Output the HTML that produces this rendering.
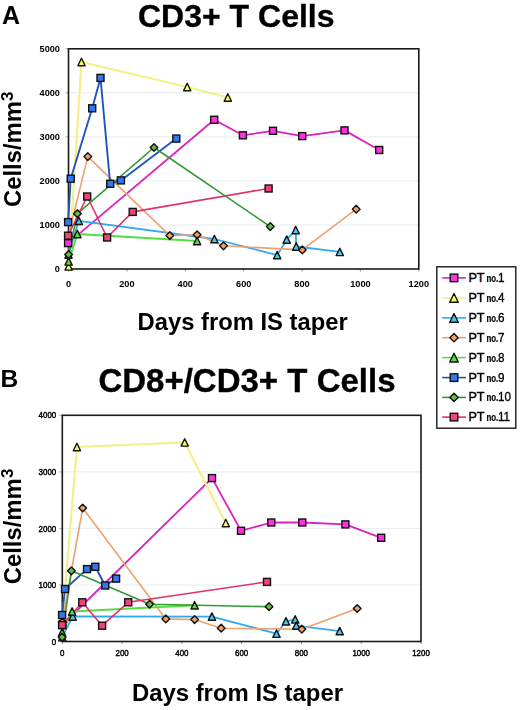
<!DOCTYPE html>
<html><head><meta charset="utf-8"><style>
html,body{margin:0;padding:0;background:#fff;}
body{width:520px;height:710px;overflow:hidden;position:relative;}
svg{position:absolute;left:0;top:0;filter:blur(0.35px);}
text{font-family:"Liberation Sans", sans-serif;fill:#000;}
</style></head><body>
<svg width="520" height="710" viewBox="0 0 520 710">
<line x1="68.5" y1="225.0" x2="418.8" y2="225.0" stroke="#e3ecee" stroke-width="1"/>
<line x1="68.5" y1="180.9" x2="418.8" y2="180.9" stroke="#e3ecee" stroke-width="1"/>
<line x1="68.5" y1="136.9" x2="418.8" y2="136.9" stroke="#e3ecee" stroke-width="1"/>
<line x1="68.5" y1="92.8" x2="418.8" y2="92.8" stroke="#e3ecee" stroke-width="1"/>
<line x1="65.5" y1="269.0" x2="68.5" y2="269.0" stroke="#999" stroke-width="0.8"/>
<line x1="65.5" y1="225.0" x2="68.5" y2="225.0" stroke="#999" stroke-width="0.8"/>
<line x1="65.5" y1="180.9" x2="68.5" y2="180.9" stroke="#999" stroke-width="0.8"/>
<line x1="65.5" y1="136.9" x2="68.5" y2="136.9" stroke="#999" stroke-width="0.8"/>
<line x1="65.5" y1="92.8" x2="68.5" y2="92.8" stroke="#999" stroke-width="0.8"/>
<line x1="65.5" y1="48.8" x2="68.5" y2="48.8" stroke="#999" stroke-width="0.8"/>
<line x1="68.5" y1="269.0" x2="68.5" y2="271.5" stroke="#777" stroke-width="0.8"/>
<line x1="126.9" y1="269.0" x2="126.9" y2="271.5" stroke="#777" stroke-width="0.8"/>
<line x1="185.3" y1="269.0" x2="185.3" y2="271.5" stroke="#777" stroke-width="0.8"/>
<line x1="243.7" y1="269.0" x2="243.7" y2="271.5" stroke="#777" stroke-width="0.8"/>
<line x1="302.0" y1="269.0" x2="302.0" y2="271.5" stroke="#777" stroke-width="0.8"/>
<line x1="360.4" y1="269.0" x2="360.4" y2="271.5" stroke="#777" stroke-width="0.8"/>
<line x1="418.8" y1="269.0" x2="418.8" y2="271.5" stroke="#777" stroke-width="0.8"/>
<rect x="68.5" y="48.8" width="350.3" height="220.2" fill="none" stroke="#1a1a1a" stroke-width="1.6"/>
<polyline points="68.1,243.1 214.2,119.8 242.9,135.3 273.0,130.8 302.2,136.1 344.5,130.4 379.2,150.0" fill="none" stroke="#dd22bb" stroke-width="1.8" stroke-linejoin="round"/>
<polyline points="68.6,266.4 81.5,62.0 187.2,87.0 227.8,97.5" fill="none" stroke="#f3f08a" stroke-width="2.2" stroke-linejoin="round"/>
<polyline points="68.5,254.5 78.8,220.8 214.4,239.0 277.2,255.1 286.7,239.6 295.7,230.0 296.2,246.5 339.8,251.9" fill="none" stroke="#33aaee" stroke-width="1.8" stroke-linejoin="round"/>
<polyline points="68.3,236.0 87.8,156.6 169.8,235.6 197.1,234.8 223.5,245.8 302.3,249.9 356.2,209.2" fill="none" stroke="#eea070" stroke-width="1.6" stroke-linejoin="round"/>
<polyline points="68.6,261.4 77.4,234.0 197.1,241.0" fill="none" stroke="#55dd44" stroke-width="2.0" stroke-linejoin="round"/>
<polyline points="68.1,222.1 70.7,178.7 92.2,108.3 100.5,77.9 110.2,183.8 120.9,180.4 176.3,138.6" fill="none" stroke="#2255bb" stroke-width="1.9" stroke-linejoin="round"/>
<polyline points="68.6,254.5 77.4,213.7 154.0,147.5 270.3,226.6" fill="none" stroke="#339933" stroke-width="1.6" stroke-linejoin="round"/>
<polyline points="68.1,235.7 87.2,196.5 107.1,237.5 132.7,211.9 268.6,188.5" fill="none" stroke="#e03366" stroke-width="1.6" stroke-linejoin="round"/>
<rect x="64.60" y="239.60" width="7.00" height="7.00" fill="#ff33dd" stroke="#111" stroke-width="1.4"/>
<rect x="210.70" y="116.30" width="7.00" height="7.00" fill="#ff33dd" stroke="#111" stroke-width="1.4"/>
<rect x="239.40" y="131.80" width="7.00" height="7.00" fill="#ff33dd" stroke="#111" stroke-width="1.4"/>
<rect x="269.50" y="127.30" width="7.00" height="7.00" fill="#ff33dd" stroke="#111" stroke-width="1.4"/>
<rect x="298.70" y="132.60" width="7.00" height="7.00" fill="#ff33dd" stroke="#111" stroke-width="1.4"/>
<rect x="341.00" y="126.90" width="7.00" height="7.00" fill="#ff33dd" stroke="#111" stroke-width="1.4"/>
<rect x="375.70" y="146.50" width="7.00" height="7.00" fill="#ff33dd" stroke="#111" stroke-width="1.4"/>
<polygon points="68.60,262.69 72.24,270.11 64.96,270.11" fill="#ffff55" stroke="#111" stroke-width="1.4" stroke-linejoin="round"/>
<polygon points="81.50,58.29 85.14,65.71 77.86,65.71" fill="#ffff55" stroke="#111" stroke-width="1.4" stroke-linejoin="round"/>
<polygon points="187.20,83.29 190.84,90.71 183.56,90.71" fill="#ffff55" stroke="#111" stroke-width="1.4" stroke-linejoin="round"/>
<polygon points="227.80,93.79 231.44,101.21 224.16,101.21" fill="#ffff55" stroke="#111" stroke-width="1.4" stroke-linejoin="round"/>
<polygon points="68.50,250.79 72.14,258.21 64.86,258.21" fill="#44ccee" stroke="#111" stroke-width="1.4" stroke-linejoin="round"/>
<polygon points="78.80,217.09 82.44,224.51 75.16,224.51" fill="#44ccee" stroke="#111" stroke-width="1.4" stroke-linejoin="round"/>
<polygon points="214.40,235.29 218.04,242.71 210.76,242.71" fill="#44ccee" stroke="#111" stroke-width="1.4" stroke-linejoin="round"/>
<polygon points="277.20,251.39 280.84,258.81 273.56,258.81" fill="#44ccee" stroke="#111" stroke-width="1.4" stroke-linejoin="round"/>
<polygon points="286.70,235.89 290.34,243.31 283.06,243.31" fill="#44ccee" stroke="#111" stroke-width="1.4" stroke-linejoin="round"/>
<polygon points="295.70,226.29 299.34,233.71 292.06,233.71" fill="#44ccee" stroke="#111" stroke-width="1.4" stroke-linejoin="round"/>
<polygon points="296.20,242.79 299.84,250.21 292.56,250.21" fill="#44ccee" stroke="#111" stroke-width="1.4" stroke-linejoin="round"/>
<polygon points="339.80,248.19 343.44,255.61 336.16,255.61" fill="#44ccee" stroke="#111" stroke-width="1.4" stroke-linejoin="round"/>
<polygon points="68.30,232.15 72.15,236.00 68.30,239.85 64.45,236.00" fill="#f0a060" stroke="#111" stroke-width="1.4" stroke-linejoin="round"/>
<polygon points="87.80,152.75 91.65,156.60 87.80,160.45 83.95,156.60" fill="#f0a060" stroke="#111" stroke-width="1.4" stroke-linejoin="round"/>
<polygon points="169.80,231.75 173.65,235.60 169.80,239.45 165.95,235.60" fill="#f0a060" stroke="#111" stroke-width="1.4" stroke-linejoin="round"/>
<polygon points="197.10,230.95 200.95,234.80 197.10,238.65 193.25,234.80" fill="#f0a060" stroke="#111" stroke-width="1.4" stroke-linejoin="round"/>
<polygon points="223.50,241.95 227.35,245.80 223.50,249.65 219.65,245.80" fill="#f0a060" stroke="#111" stroke-width="1.4" stroke-linejoin="round"/>
<polygon points="302.30,246.05 306.15,249.90 302.30,253.75 298.45,249.90" fill="#f0a060" stroke="#111" stroke-width="1.4" stroke-linejoin="round"/>
<polygon points="356.20,205.35 360.05,209.20 356.20,213.05 352.35,209.20" fill="#f0a060" stroke="#111" stroke-width="1.4" stroke-linejoin="round"/>
<polygon points="68.60,257.69 72.24,265.11 64.96,265.11" fill="#55dd44" stroke="#111" stroke-width="1.4" stroke-linejoin="round"/>
<polygon points="77.40,230.29 81.04,237.71 73.76,237.71" fill="#55dd44" stroke="#111" stroke-width="1.4" stroke-linejoin="round"/>
<polygon points="197.10,237.29 200.74,244.71 193.46,244.71" fill="#55dd44" stroke="#111" stroke-width="1.4" stroke-linejoin="round"/>
<rect x="64.60" y="218.60" width="7.00" height="7.00" fill="#3377ee" stroke="#111" stroke-width="1.4"/>
<rect x="67.20" y="175.20" width="7.00" height="7.00" fill="#3377ee" stroke="#111" stroke-width="1.4"/>
<rect x="88.70" y="104.80" width="7.00" height="7.00" fill="#3377ee" stroke="#111" stroke-width="1.4"/>
<rect x="97.00" y="74.40" width="7.00" height="7.00" fill="#3377ee" stroke="#111" stroke-width="1.4"/>
<rect x="106.70" y="180.30" width="7.00" height="7.00" fill="#3377ee" stroke="#111" stroke-width="1.4"/>
<rect x="117.40" y="176.90" width="7.00" height="7.00" fill="#3377ee" stroke="#111" stroke-width="1.4"/>
<rect x="172.80" y="135.10" width="7.00" height="7.00" fill="#3377ee" stroke="#111" stroke-width="1.4"/>
<polygon points="68.60,250.65 72.45,254.50 68.60,258.35 64.75,254.50" fill="#66bb44" stroke="#111" stroke-width="1.4" stroke-linejoin="round"/>
<polygon points="77.40,209.85 81.25,213.70 77.40,217.55 73.55,213.70" fill="#66bb44" stroke="#111" stroke-width="1.4" stroke-linejoin="round"/>
<polygon points="154.00,143.65 157.85,147.50 154.00,151.35 150.15,147.50" fill="#66bb44" stroke="#111" stroke-width="1.4" stroke-linejoin="round"/>
<polygon points="270.30,222.75 274.15,226.60 270.30,230.45 266.45,226.60" fill="#66bb44" stroke="#111" stroke-width="1.4" stroke-linejoin="round"/>
<rect x="64.60" y="232.20" width="7.00" height="7.00" fill="#ee4477" stroke="#111" stroke-width="1.4"/>
<rect x="83.70" y="193.00" width="7.00" height="7.00" fill="#ee4477" stroke="#111" stroke-width="1.4"/>
<rect x="103.60" y="234.00" width="7.00" height="7.00" fill="#ee4477" stroke="#111" stroke-width="1.4"/>
<rect x="129.20" y="208.40" width="7.00" height="7.00" fill="#ee4477" stroke="#111" stroke-width="1.4"/>
<rect x="265.10" y="185.00" width="7.00" height="7.00" fill="#ee4477" stroke="#111" stroke-width="1.4"/>
<text x="60.0" y="268.40" dy="0.36em" text-anchor="end" font-size="9.6" font-weight="bold" transform="translate(60.0,0) scale(0.96,1) translate(-60.0,0)">0</text>
<text x="60.0" y="224.40" dy="0.36em" text-anchor="end" font-size="9.6" font-weight="bold" transform="translate(60.0,0) scale(0.96,1) translate(-60.0,0)">1000</text>
<text x="60.0" y="180.30" dy="0.36em" text-anchor="end" font-size="9.6" font-weight="bold" transform="translate(60.0,0) scale(0.96,1) translate(-60.0,0)">2000</text>
<text x="60.0" y="136.30" dy="0.36em" text-anchor="end" font-size="9.6" font-weight="bold" transform="translate(60.0,0) scale(0.96,1) translate(-60.0,0)">3000</text>
<text x="60.0" y="92.20" dy="0.36em" text-anchor="end" font-size="9.6" font-weight="bold" transform="translate(60.0,0) scale(0.96,1) translate(-60.0,0)">4000</text>
<text x="60.0" y="48.20" dy="0.36em" text-anchor="end" font-size="9.6" font-weight="bold" transform="translate(60.0,0) scale(0.96,1) translate(-60.0,0)">5000</text>
<text x="68.5" y="283.20" dy="0.36em" text-anchor="middle" font-size="9.6" font-weight="bold" transform="translate(68.5,0) scale(0.96,1) translate(-68.5,0)">0</text>
<text x="126.9" y="283.20" dy="0.36em" text-anchor="middle" font-size="9.6" font-weight="bold" transform="translate(126.9,0) scale(0.96,1) translate(-126.9,0)">200</text>
<text x="185.3" y="283.20" dy="0.36em" text-anchor="middle" font-size="9.6" font-weight="bold" transform="translate(185.3,0) scale(0.96,1) translate(-185.3,0)">400</text>
<text x="243.7" y="283.20" dy="0.36em" text-anchor="middle" font-size="9.6" font-weight="bold" transform="translate(243.7,0) scale(0.96,1) translate(-243.7,0)">600</text>
<text x="302.0" y="283.20" dy="0.36em" text-anchor="middle" font-size="9.6" font-weight="bold" transform="translate(302.0,0) scale(0.96,1) translate(-302.0,0)">800</text>
<text x="360.4" y="283.20" dy="0.36em" text-anchor="middle" font-size="9.6" font-weight="bold" transform="translate(360.4,0) scale(0.96,1) translate(-360.4,0)">1000</text>
<text x="418.8" y="283.20" dy="0.36em" text-anchor="middle" font-size="9.6" font-weight="bold" transform="translate(418.8,0) scale(0.96,1) translate(-418.8,0)">1200</text>
<line x1="62.3" y1="585.0" x2="421.0" y2="585.0" stroke="#e3ecee" stroke-width="1"/>
<line x1="62.3" y1="528.4" x2="421.0" y2="528.4" stroke="#e3ecee" stroke-width="1"/>
<line x1="62.3" y1="471.9" x2="421.0" y2="471.9" stroke="#e3ecee" stroke-width="1"/>
<line x1="59.3" y1="641.5" x2="62.3" y2="641.5" stroke="#999" stroke-width="0.8"/>
<line x1="59.3" y1="585.0" x2="62.3" y2="585.0" stroke="#999" stroke-width="0.8"/>
<line x1="59.3" y1="528.4" x2="62.3" y2="528.4" stroke="#999" stroke-width="0.8"/>
<line x1="59.3" y1="471.9" x2="62.3" y2="471.9" stroke="#999" stroke-width="0.8"/>
<line x1="59.3" y1="415.3" x2="62.3" y2="415.3" stroke="#999" stroke-width="0.8"/>
<line x1="62.3" y1="641.5" x2="62.3" y2="644.0" stroke="#777" stroke-width="0.8"/>
<line x1="122.1" y1="641.5" x2="122.1" y2="644.0" stroke="#777" stroke-width="0.8"/>
<line x1="181.9" y1="641.5" x2="181.9" y2="644.0" stroke="#777" stroke-width="0.8"/>
<line x1="241.6" y1="641.5" x2="241.6" y2="644.0" stroke="#777" stroke-width="0.8"/>
<line x1="301.4" y1="641.5" x2="301.4" y2="644.0" stroke="#777" stroke-width="0.8"/>
<line x1="361.2" y1="641.5" x2="361.2" y2="644.0" stroke="#777" stroke-width="0.8"/>
<line x1="421.0" y1="641.5" x2="421.0" y2="644.0" stroke="#777" stroke-width="0.8"/>
<rect x="62.3" y="415.3" width="358.7" height="226.2" fill="none" stroke="#1a1a1a" stroke-width="1.6"/>
<polyline points="62.3,625.0 212.0,478.1 241.0,530.8 271.3,522.5 302.3,522.5 345.4,524.4 381.2,537.8" fill="none" stroke="#dd22bb" stroke-width="1.8" stroke-linejoin="round"/>
<polyline points="62.3,622.0 76.9,447.0 184.7,442.4 225.8,523.0" fill="none" stroke="#f3f08a" stroke-width="2.2" stroke-linejoin="round"/>
<polyline points="62.2,637.2 72.7,616.5 211.9,616.6 276.5,633.7 286.0,621.3 295.2,619.4 296.3,625.6 339.7,631.1" fill="none" stroke="#33aaee" stroke-width="1.8" stroke-linejoin="round"/>
<polyline points="62.3,622.0 82.7,508.0 165.8,618.9 194.6,619.6 221.2,628.2 301.8,629.2 357.2,608.5" fill="none" stroke="#eea070" stroke-width="1.6" stroke-linejoin="round"/>
<polyline points="62.1,632.3 72.1,611.5 194.6,605.3" fill="none" stroke="#55dd44" stroke-width="2.0" stroke-linejoin="round"/>
<polyline points="62.1,615.0 65.0,589.0 87.0,569.1 95.3,566.8 105.2,585.5 116.1,578.6" fill="none" stroke="#2255bb" stroke-width="1.9" stroke-linejoin="round"/>
<polyline points="62.1,637.2 71.4,570.8 149.6,604.2 269.0,606.7" fill="none" stroke="#339933" stroke-width="1.6" stroke-linejoin="round"/>
<polyline points="62.1,625.0 82.3,602.3 102.1,625.7 128.2,602.3 267.0,581.9" fill="none" stroke="#e03366" stroke-width="1.6" stroke-linejoin="round"/>
<rect x="58.80" y="621.50" width="7.00" height="7.00" fill="#ff33dd" stroke="#111" stroke-width="1.4"/>
<rect x="208.50" y="474.60" width="7.00" height="7.00" fill="#ff33dd" stroke="#111" stroke-width="1.4"/>
<rect x="237.50" y="527.30" width="7.00" height="7.00" fill="#ff33dd" stroke="#111" stroke-width="1.4"/>
<rect x="267.80" y="519.00" width="7.00" height="7.00" fill="#ff33dd" stroke="#111" stroke-width="1.4"/>
<rect x="298.80" y="519.00" width="7.00" height="7.00" fill="#ff33dd" stroke="#111" stroke-width="1.4"/>
<rect x="341.90" y="520.90" width="7.00" height="7.00" fill="#ff33dd" stroke="#111" stroke-width="1.4"/>
<rect x="377.70" y="534.30" width="7.00" height="7.00" fill="#ff33dd" stroke="#111" stroke-width="1.4"/>
<polygon points="62.30,618.29 65.94,625.71 58.66,625.71" fill="#ffff55" stroke="#111" stroke-width="1.4" stroke-linejoin="round"/>
<polygon points="76.90,443.29 80.54,450.71 73.26,450.71" fill="#ffff55" stroke="#111" stroke-width="1.4" stroke-linejoin="round"/>
<polygon points="184.70,438.69 188.34,446.11 181.06,446.11" fill="#ffff55" stroke="#111" stroke-width="1.4" stroke-linejoin="round"/>
<polygon points="225.80,519.29 229.44,526.71 222.16,526.71" fill="#ffff55" stroke="#111" stroke-width="1.4" stroke-linejoin="round"/>
<polygon points="62.20,633.49 65.84,640.91 58.56,640.91" fill="#44ccee" stroke="#111" stroke-width="1.4" stroke-linejoin="round"/>
<polygon points="72.70,612.79 76.34,620.21 69.06,620.21" fill="#44ccee" stroke="#111" stroke-width="1.4" stroke-linejoin="round"/>
<polygon points="211.90,612.89 215.54,620.31 208.26,620.31" fill="#44ccee" stroke="#111" stroke-width="1.4" stroke-linejoin="round"/>
<polygon points="276.50,629.99 280.14,637.41 272.86,637.41" fill="#44ccee" stroke="#111" stroke-width="1.4" stroke-linejoin="round"/>
<polygon points="286.00,617.59 289.64,625.01 282.36,625.01" fill="#44ccee" stroke="#111" stroke-width="1.4" stroke-linejoin="round"/>
<polygon points="295.20,615.69 298.84,623.11 291.56,623.11" fill="#44ccee" stroke="#111" stroke-width="1.4" stroke-linejoin="round"/>
<polygon points="296.30,621.89 299.94,629.31 292.66,629.31" fill="#44ccee" stroke="#111" stroke-width="1.4" stroke-linejoin="round"/>
<polygon points="339.70,627.39 343.34,634.81 336.06,634.81" fill="#44ccee" stroke="#111" stroke-width="1.4" stroke-linejoin="round"/>
<polygon points="62.30,618.15 66.15,622.00 62.30,625.85 58.45,622.00" fill="#f0a060" stroke="#111" stroke-width="1.4" stroke-linejoin="round"/>
<polygon points="82.70,504.15 86.55,508.00 82.70,511.85 78.85,508.00" fill="#f0a060" stroke="#111" stroke-width="1.4" stroke-linejoin="round"/>
<polygon points="165.80,615.05 169.65,618.90 165.80,622.75 161.95,618.90" fill="#f0a060" stroke="#111" stroke-width="1.4" stroke-linejoin="round"/>
<polygon points="194.60,615.75 198.45,619.60 194.60,623.45 190.75,619.60" fill="#f0a060" stroke="#111" stroke-width="1.4" stroke-linejoin="round"/>
<polygon points="221.20,624.35 225.05,628.20 221.20,632.05 217.35,628.20" fill="#f0a060" stroke="#111" stroke-width="1.4" stroke-linejoin="round"/>
<polygon points="301.80,625.35 305.65,629.20 301.80,633.05 297.95,629.20" fill="#f0a060" stroke="#111" stroke-width="1.4" stroke-linejoin="round"/>
<polygon points="357.20,604.65 361.05,608.50 357.20,612.35 353.35,608.50" fill="#f0a060" stroke="#111" stroke-width="1.4" stroke-linejoin="round"/>
<polygon points="62.10,628.59 65.74,636.01 58.46,636.01" fill="#55dd44" stroke="#111" stroke-width="1.4" stroke-linejoin="round"/>
<polygon points="72.10,607.79 75.74,615.21 68.46,615.21" fill="#55dd44" stroke="#111" stroke-width="1.4" stroke-linejoin="round"/>
<polygon points="194.60,601.59 198.24,609.01 190.96,609.01" fill="#55dd44" stroke="#111" stroke-width="1.4" stroke-linejoin="round"/>
<rect x="58.60" y="611.50" width="7.00" height="7.00" fill="#3377ee" stroke="#111" stroke-width="1.4"/>
<rect x="61.50" y="585.50" width="7.00" height="7.00" fill="#3377ee" stroke="#111" stroke-width="1.4"/>
<rect x="83.50" y="565.60" width="7.00" height="7.00" fill="#3377ee" stroke="#111" stroke-width="1.4"/>
<rect x="91.80" y="563.30" width="7.00" height="7.00" fill="#3377ee" stroke="#111" stroke-width="1.4"/>
<rect x="101.70" y="582.00" width="7.00" height="7.00" fill="#3377ee" stroke="#111" stroke-width="1.4"/>
<rect x="112.60" y="575.10" width="7.00" height="7.00" fill="#3377ee" stroke="#111" stroke-width="1.4"/>
<polygon points="62.10,633.35 65.95,637.20 62.10,641.05 58.25,637.20" fill="#66bb44" stroke="#111" stroke-width="1.4" stroke-linejoin="round"/>
<polygon points="71.40,566.95 75.25,570.80 71.40,574.65 67.55,570.80" fill="#66bb44" stroke="#111" stroke-width="1.4" stroke-linejoin="round"/>
<polygon points="149.60,600.35 153.45,604.20 149.60,608.05 145.75,604.20" fill="#66bb44" stroke="#111" stroke-width="1.4" stroke-linejoin="round"/>
<polygon points="269.00,602.85 272.85,606.70 269.00,610.55 265.15,606.70" fill="#66bb44" stroke="#111" stroke-width="1.4" stroke-linejoin="round"/>
<rect x="58.60" y="621.50" width="7.00" height="7.00" fill="#ee4477" stroke="#111" stroke-width="1.4"/>
<rect x="78.80" y="598.80" width="7.00" height="7.00" fill="#ee4477" stroke="#111" stroke-width="1.4"/>
<rect x="98.60" y="622.20" width="7.00" height="7.00" fill="#ee4477" stroke="#111" stroke-width="1.4"/>
<rect x="124.70" y="598.80" width="7.00" height="7.00" fill="#ee4477" stroke="#111" stroke-width="1.4"/>
<rect x="263.50" y="578.40" width="7.00" height="7.00" fill="#ee4477" stroke="#111" stroke-width="1.4"/>
<text x="56.2" y="641.50" dy="0.36em" text-anchor="end" font-size="8.8" stroke="#000" stroke-width="0.45" transform="translate(56.2,0) scale(0.9,1) translate(-56.2,0)">0</text>
<text x="56.2" y="585.00" dy="0.36em" text-anchor="end" font-size="8.8" stroke="#000" stroke-width="0.45" transform="translate(56.2,0) scale(0.9,1) translate(-56.2,0)">1000</text>
<text x="56.2" y="528.40" dy="0.36em" text-anchor="end" font-size="8.8" stroke="#000" stroke-width="0.45" transform="translate(56.2,0) scale(0.9,1) translate(-56.2,0)">2000</text>
<text x="56.2" y="471.90" dy="0.36em" text-anchor="end" font-size="8.8" stroke="#000" stroke-width="0.45" transform="translate(56.2,0) scale(0.9,1) translate(-56.2,0)">3000</text>
<text x="56.2" y="415.30" dy="0.36em" text-anchor="end" font-size="8.8" stroke="#000" stroke-width="0.45" transform="translate(56.2,0) scale(0.9,1) translate(-56.2,0)">4000</text>
<text x="62.3" y="653.00" dy="0.36em" text-anchor="middle" font-size="8.8" stroke="#000" stroke-width="0.45" transform="translate(62.3,0) scale(0.9,1) translate(-62.3,0)">0</text>
<text x="122.1" y="653.00" dy="0.36em" text-anchor="middle" font-size="8.8" stroke="#000" stroke-width="0.45" transform="translate(122.1,0) scale(0.9,1) translate(-122.1,0)">200</text>
<text x="181.9" y="653.00" dy="0.36em" text-anchor="middle" font-size="8.8" stroke="#000" stroke-width="0.45" transform="translate(181.9,0) scale(0.9,1) translate(-181.9,0)">400</text>
<text x="241.6" y="653.00" dy="0.36em" text-anchor="middle" font-size="8.8" stroke="#000" stroke-width="0.45" transform="translate(241.6,0) scale(0.9,1) translate(-241.6,0)">600</text>
<text x="301.4" y="653.00" dy="0.36em" text-anchor="middle" font-size="8.8" stroke="#000" stroke-width="0.45" transform="translate(301.4,0) scale(0.9,1) translate(-301.4,0)">800</text>
<text x="361.2" y="653.00" dy="0.36em" text-anchor="middle" font-size="8.8" stroke="#000" stroke-width="0.45" transform="translate(361.2,0) scale(0.9,1) translate(-361.2,0)">1000</text>
<text x="421.0" y="653.00" dy="0.36em" text-anchor="middle" font-size="8.8" stroke="#000" stroke-width="0.45" transform="translate(421.0,0) scale(0.9,1) translate(-421.0,0)">1200</text>
<text x="138.0" y="26.9" font-size="32" font-weight="bold" stroke="#000" stroke-width="0.35" transform="translate(138.0,0) scale(1.0,1) translate(-138.0,0)">CD3+ T Cells</text>
<text x="98.4" y="392.3" font-size="33" font-weight="bold" stroke="#000" stroke-width="0.35" transform="translate(98.4,0) scale(1.0,1) translate(-98.4,0)">CD8+/CD3+ T Cells</text>
<text x="2.0" y="23.7" font-size="25" font-weight="bold">A</text>
<text x="0.6" y="386.9" font-size="24.6" font-weight="bold">B</text>
<text x="137.6" y="329.8" font-size="24.4" font-weight="bold" transform="translate(137.6,0) scale(0.975,1) translate(-137.6,0)">Days from IS taper</text>
<text x="131.9" y="701.2" font-size="24.4" font-weight="bold" transform="translate(131.9,0) scale(0.98,1) translate(-131.9,0)">Days from IS taper</text>
<text transform="translate(20.8,207.0) rotate(-90)" x="0" y="0" font-size="23.8" font-weight="bold">Cells/mm<tspan font-size="17" dy="-8.2" dx="0.3">3</tspan></text>
<text transform="translate(20.8,584.2) rotate(-90)" x="0" y="0" font-size="23.8" font-weight="bold">Cells/mm<tspan font-size="17" dy="-8.2" dx="0.3">3</tspan></text>
<rect x="436.8" y="266.8" width="79" height="161.4" fill="#fff" stroke="#1a1a1a" stroke-width="1.4"/>
<line x1="442.2" y1="277.9" x2="466" y2="277.9" stroke="#dd22bb" stroke-width="1.6"/>
<rect x="450.20" y="274.10" width="7.60" height="7.60" fill="#ff33dd" stroke="#111" stroke-width="1.4"/>
<text x="468.4" y="281.9" font-size="12.7" stroke="#000" stroke-width="0.4">PT</text>
<text x="486.4" y="281.9" font-size="10" font-weight="bold" stroke="#000" stroke-width="0.2" transform="translate(486.4,0) scale(0.79,1) translate(-486.4,0)">no.</text>
<text x="498.0" y="281.9" font-size="12.7" stroke="#000" stroke-width="0.35" transform="translate(498.0,0) scale(0.92,1) translate(-498.0,0)">1</text>
<line x1="442.2" y1="297.9" x2="466" y2="297.9" stroke="#f3f08a" stroke-width="1.6"/>
<polygon points="454.00,293.55 458.26,302.25 449.74,302.25" fill="#ffff55" stroke="#111" stroke-width="1.4" stroke-linejoin="round"/>
<text x="468.4" y="301.9" font-size="12.7" stroke="#000" stroke-width="0.4">PT</text>
<text x="486.4" y="301.9" font-size="10" font-weight="bold" stroke="#000" stroke-width="0.2" transform="translate(486.4,0) scale(0.79,1) translate(-486.4,0)">no.</text>
<text x="498.0" y="301.9" font-size="12.7" stroke="#000" stroke-width="0.35" transform="translate(498.0,0) scale(0.92,1) translate(-498.0,0)">4</text>
<line x1="442.2" y1="317.9" x2="466" y2="317.9" stroke="#33aaee" stroke-width="1.6"/>
<polygon points="454.00,313.55 458.26,322.25 449.74,322.25" fill="#44ccee" stroke="#111" stroke-width="1.4" stroke-linejoin="round"/>
<text x="468.4" y="321.9" font-size="12.7" stroke="#000" stroke-width="0.4">PT</text>
<text x="486.4" y="321.9" font-size="10" font-weight="bold" stroke="#000" stroke-width="0.2" transform="translate(486.4,0) scale(0.79,1) translate(-486.4,0)">no.</text>
<text x="498.0" y="321.9" font-size="12.7" stroke="#000" stroke-width="0.35" transform="translate(498.0,0) scale(0.92,1) translate(-498.0,0)">6</text>
<line x1="442.2" y1="337.7" x2="466" y2="337.7" stroke="#eea070" stroke-width="1.6"/>
<polygon points="454.00,333.52 458.18,337.70 454.00,341.88 449.82,337.70" fill="#f0a060" stroke="#111" stroke-width="1.4" stroke-linejoin="round"/>
<text x="468.4" y="341.7" font-size="12.7" stroke="#000" stroke-width="0.4">PT</text>
<text x="486.4" y="341.7" font-size="10" font-weight="bold" stroke="#000" stroke-width="0.2" transform="translate(486.4,0) scale(0.79,1) translate(-486.4,0)">no.</text>
<text x="498.0" y="341.7" font-size="12.7" stroke="#000" stroke-width="0.35" transform="translate(498.0,0) scale(0.92,1) translate(-498.0,0)">7</text>
<line x1="442.2" y1="357.6" x2="466" y2="357.6" stroke="#55dd44" stroke-width="1.6"/>
<polygon points="454.00,353.25 458.26,361.95 449.74,361.95" fill="#55dd44" stroke="#111" stroke-width="1.4" stroke-linejoin="round"/>
<text x="468.4" y="361.6" font-size="12.7" stroke="#000" stroke-width="0.4">PT</text>
<text x="486.4" y="361.6" font-size="10" font-weight="bold" stroke="#000" stroke-width="0.2" transform="translate(486.4,0) scale(0.79,1) translate(-486.4,0)">no.</text>
<text x="498.0" y="361.6" font-size="12.7" stroke="#000" stroke-width="0.35" transform="translate(498.0,0) scale(0.92,1) translate(-498.0,0)">8</text>
<line x1="442.2" y1="377.6" x2="466" y2="377.6" stroke="#2255bb" stroke-width="1.6"/>
<rect x="450.20" y="373.80" width="7.60" height="7.60" fill="#3377ee" stroke="#111" stroke-width="1.4"/>
<text x="468.4" y="381.6" font-size="12.7" stroke="#000" stroke-width="0.4">PT</text>
<text x="486.4" y="381.6" font-size="10" font-weight="bold" stroke="#000" stroke-width="0.2" transform="translate(486.4,0) scale(0.79,1) translate(-486.4,0)">no.</text>
<text x="498.0" y="381.6" font-size="12.7" stroke="#000" stroke-width="0.35" transform="translate(498.0,0) scale(0.92,1) translate(-498.0,0)">9</text>
<line x1="442.2" y1="397.4" x2="466" y2="397.4" stroke="#339933" stroke-width="1.6"/>
<polygon points="454.00,393.22 458.18,397.40 454.00,401.58 449.82,397.40" fill="#66bb44" stroke="#111" stroke-width="1.4" stroke-linejoin="round"/>
<text x="468.4" y="401.4" font-size="12.7" stroke="#000" stroke-width="0.4">PT</text>
<text x="486.4" y="401.4" font-size="10" font-weight="bold" stroke="#000" stroke-width="0.2" transform="translate(486.4,0) scale(0.79,1) translate(-486.4,0)">no.</text>
<text x="498.0" y="401.4" font-size="12.7" stroke="#000" stroke-width="0.35" transform="translate(498.0,0) scale(0.92,1) translate(-498.0,0)">10</text>
<line x1="442.2" y1="417.1" x2="466" y2="417.1" stroke="#e03366" stroke-width="1.6"/>
<rect x="450.20" y="413.30" width="7.60" height="7.60" fill="#ee4477" stroke="#111" stroke-width="1.4"/>
<text x="468.4" y="421.1" font-size="12.7" stroke="#000" stroke-width="0.4">PT</text>
<text x="486.4" y="421.1" font-size="10" font-weight="bold" stroke="#000" stroke-width="0.2" transform="translate(486.4,0) scale(0.79,1) translate(-486.4,0)">no.</text>
<text x="498.0" y="421.1" font-size="12.7" stroke="#000" stroke-width="0.35" transform="translate(498.0,0) scale(0.92,1) translate(-498.0,0)">11</text>
</svg>
</body></html>
